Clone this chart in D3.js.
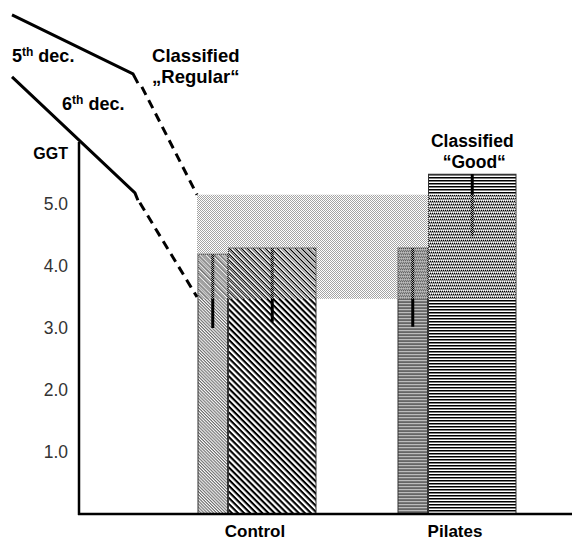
<!DOCTYPE html>
<html>
<head>
<meta charset="utf-8">
<script src="https://cdn.jsdelivr.net/npm/d3@7"></script>
<style>
  body { margin: 0; background: #fff; }
  svg { display: block; font-family: "Liberation Sans", Arial, sans-serif; }
</style>
</head>
<body>
<div id="container"></div>
<script>
// Chart size
const width = 572;
const height = 540;
const marginLeft = 79;
const baseline = 514;

// data
const groups = ["Control", "Pilates"];
const barKeys = ["small", "big"];
const barValues = {Control: [4.19, 4.29], Pilates: [4.29, 5.48]};
const errLow = {Control: [3.0, 3.1], Pilates: [3.02, 4.48]};
const yTicks = [1.0, 2.0, 3.0, 4.0, 5.0];
const regularBand = [3.47, 5.15];

// decile lines: t = fraction of the way to the Control bars, v = GGT value
const dec5Solid = [{t: 0.061, v: 8.05}, {t: 0.675, v: 7.10}, {t: 0.70, v: 6.95}];
const dec5Dash = [{t: 0.72, v: 6.89}, {t: 1.0, v: 5.15}];
const dec6Solid = [{t: 0.061, v: 7.05}, {t: 0.685, v: 5.18}, {t: 0.70, v: 5.06}];
const dec6Dash = [{t: 0.71, v: 5.02}, {t: 1.0, v: 3.5}];

// scales
const y = d3.scaleLinear().domain([0, 6]).range([baseline, 142]);
const x = d3.scaleBand().domain(groups).range([198, 516]).paddingInner(0.41);
const bw = x.bandwidth();
const xLine = d3.scaleLinear().domain([0, 1]).range([0, x("Control") - 1]);

const svg = d3.select("#container").append("svg")
    .attr("width", width)
    .attr("height", height)
    .attr("viewBox", [0, 0, width, height]);

// patterns for the bars
const defs = svg.append("defs");

function hatch(id, size, lineW, color, bg, angle) {
  const p = defs.append("pattern")
      .attr("id", id)
      .attr("patternUnits", "userSpaceOnUse")
      .attr("width", size)
      .attr("height", size)
      .attr("patternTransform", `rotate(${angle})`);
  p.append("rect").attr("width", size).attr("height", size).attr("fill", bg);
  p.append("rect").attr("width", size).attr("height", lineW).attr("fill", color);
}
hatch("ctrlSmall", 2.2, 1.1, "#6a6a6a", "#fff", 45);
hatch("ctrlBig", 4.3, 2.1, "#000", "#fff", 45);
hatch("pilSmall", 3, 1.2, "#bcbcbc", "#666", 0);
hatch("pilBig", 3, 1.5, "#000", "#fff", 0);

// checker for the shaded band
const chk = defs.append("pattern")
    .attr("id", "checker")
    .attr("patternUnits", "userSpaceOnUse")
    .attr("width", 2).attr("height", 2);
chk.append("rect").attr("width", 1).attr("height", 1).attr("fill", "#a4a4a4");
chk.append("rect").attr("x", 1).attr("y", 1).attr("width", 1).attr("height", 1).attr("fill", "#a4a4a4");

const fills = {Control: ["url(#ctrlSmall)", "url(#ctrlBig)"], Pilates: ["url(#pilSmall)", "url(#pilBig)"]};

// bar geometry: small bar takes a quarter of the group
function barX(g, i) { return i === 0 ? x(g) : x(g) + bw * 0.25 + 1; }
function barW(i) { return i === 0 ? bw * 0.25 : bw * 0.75 - 1; }

const bars = [];
groups.forEach(g => barKeys.forEach((k, i) => bars.push({g, i, v: barValues[g][i], lo: errLow[g][i]})));

svg.append("g").selectAll("rect")
  .data(bars)
  .join("rect")
    .attr("x", d => barX(d.g, d.i))
    .attr("y", d => y(d.v))
    .attr("width", d => barW(d.i))
    .attr("height", d => y(0) - y(d.v))
    .attr("fill", d => fills[d.g][d.i])
    .attr("stroke", "#333")
    .attr("stroke-width", 1);

// error bars
svg.append("g").selectAll("line")
  .data(bars)
  .join("line")
    .attr("x1", d => barX(d.g, d.i) + barW(d.i) / 2)
    .attr("x2", d => barX(d.g, d.i) + barW(d.i) / 2)
    .attr("y1", d => y(d.v))
    .attr("y2", d => y(d.lo))
    .attr("stroke", "#000")
    .attr("stroke-width", 3);

// shaded "Regular" band drawn over the bars
svg.append("rect")
    .attr("x", x("Control") - 1)
    .attr("y", y(regularBand[1]))
    .attr("width", x("Pilates") + bw - x("Control") + 1)
    .attr("height", y(regularBand[0]) - y(regularBand[1]))
    .attr("fill", "url(#checker)");

// axes
svg.append("line")
    .attr("x1", marginLeft).attr("x2", marginLeft)
    .attr("y1", y(6)).attr("y2", y(0) + 1)
    .attr("stroke", "#000").attr("stroke-width", 2.5);
svg.append("line")
    .attr("x1", marginLeft - 1).attr("x2", width)
    .attr("y1", y(0)).attr("y2", y(0))
    .attr("stroke", "#000").attr("stroke-width", 2.5);

svg.append("g").selectAll("text")
  .data(yTicks)
  .join("text")
    .attr("x", marginLeft - 11)
    .attr("y", d => y(d))
    .attr("dy", "0.36em")
    .attr("text-anchor", "end")
    .attr("fill", "#333")
    .style("font-size", "17.5px")
    .text(d => d.toFixed(1));

svg.append("text")
    .attr("x", marginLeft - 11)
    .attr("y", y(6) + 17)
    .attr("text-anchor", "end")
    .attr("font-weight", "bold")
    .style("font-size", "16px")
    .text("GGT");

// category labels
svg.append("g").selectAll("text")
  .data(groups)
  .join("text")
    .attr("x", d => x(d) + bw / 2 - 2)
    .attr("y", height - 3)
    .attr("text-anchor", "middle")
    .attr("font-weight", "bold")
    .style("font-size", "17px")
    .text(d => d);

// decile lines
const line = d3.line().x(d => xLine(d.t)).y(d => y(d.v));
[dec5Solid, dec6Solid].forEach(pts => svg.append("path")
    .attr("d", line(pts)).attr("fill", "none")
    .attr("stroke", "#000").attr("stroke-width", 3));
[dec5Dash, dec6Dash].forEach(pts => svg.append("path")
    .attr("d", line(pts)).attr("fill", "none")
    .attr("stroke", "#000").attr("stroke-width", 3)
    .attr("stroke-dasharray", "9,6"));

// annotation labels
function decLabel(px, py, n) {
  const t = svg.append("text")
      .attr("x", px).attr("y", py)
      .attr("font-weight", "bold")
      .style("font-size", "18px");
  t.append("tspan").text(n);
  t.append("tspan").attr("dy", -6).style("font-size", "12px").text("th");
  t.append("tspan").attr("dy", 6).text(" dec.");
}
decLabel(xLine(0.061), 62, "5");
decLabel(xLine(0.315), 110, "6");

const reg = svg.append("text")
    .attr("font-weight", "bold")
    .style("font-size", "18.5px");
reg.append("tspan").attr("x", xLine(0.772)).attr("y", 62).text("Classified");
reg.append("tspan").attr("x", xLine(0.772)).attr("y", 83).text("\u201ERegular\u201C");

const good = svg.append("text")
    .attr("text-anchor", "middle")
    .attr("font-weight", "bold")
    .style("font-size", "17.5px");
good.append("tspan").attr("x", barX("Pilates", 1) + barW(1) / 2).attr("y", 147).text("Classified");
good.append("tspan").attr("x", barX("Pilates", 1) + barW(1) / 2 + 2).attr("y", 168).text("\u201CGood\u201C");
</script>
</body>
</html>
